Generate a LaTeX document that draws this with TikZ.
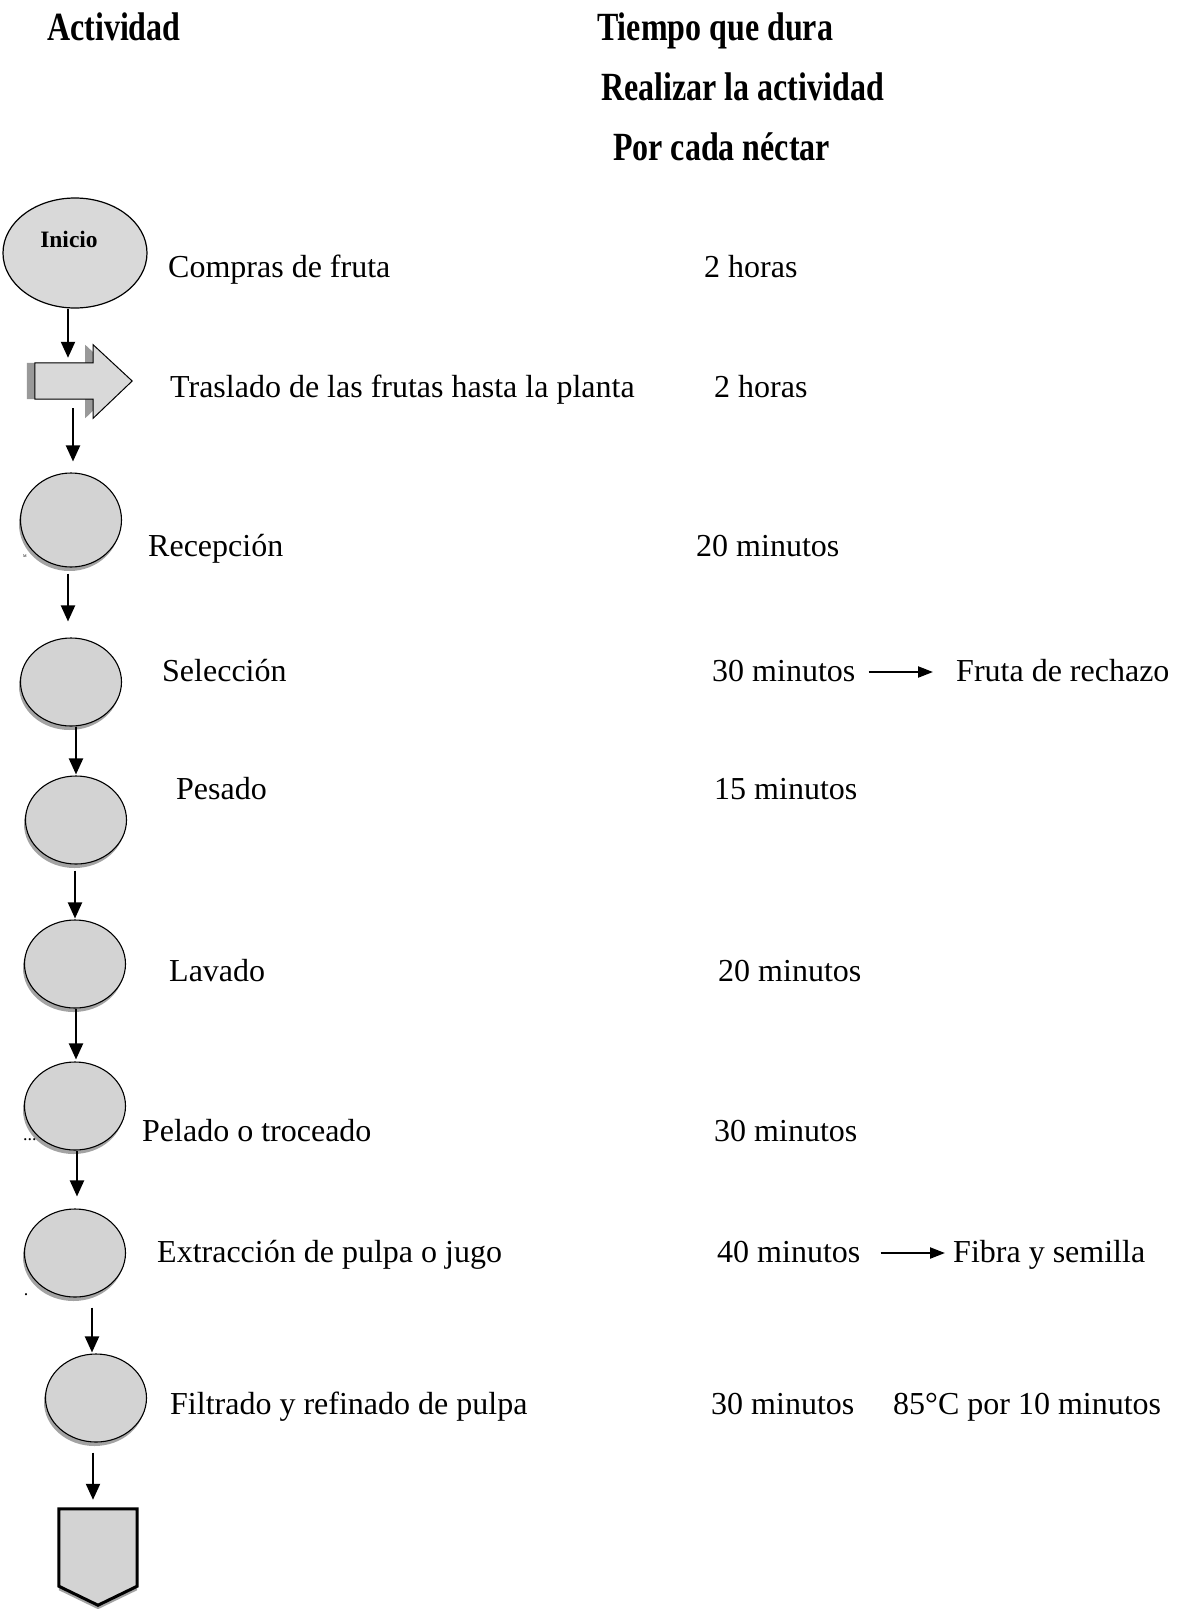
\documentclass[tikz,border=0pt]{standalone}
\usepackage{fontspec}
\setmainfont{Liberation Serif}
\usetikzlibrary{arrows.meta,positioning,shapes.geometric,shadows}

\definecolor{gris}{HTML}{D3D3D3}
\definecolor{grisini}{HTML}{D9D9D9}
\definecolor{sombra}{HTML}{A3A3A3}
\definecolor{sombraosc}{HTML}{999999}

\newcommand{\alto}[1]{\scalebox{1}[1.25]{#1}}

\begin{document}
\begin{tikzpicture}[x=1pt,y=-1pt,
  paso/.style={ellipse,draw,line width=1.1pt,fill=gris,inner sep=0pt,
    minimum width=101pt,minimum height=88pt,
    drop shadow={shadow xshift=-1.5pt,shadow yshift=-4pt,fill=sombra,opacity=1}},
  inicio/.style={ellipse,draw,line width=1.2pt,fill=grisini,inner sep=0pt,
    minimum width=144pt,minimum height=110pt},
  flujo/.style={-{Triangle[length=16pt,width=14pt]},line width=2pt},
  salida/.style={-{Triangle[length=15pt,width=11pt]},line width=2.2pt},
  txt/.style={anchor=west,inner sep=0pt,text height=22pt,text depth=4pt,
    font=\fontsize{32}{38}\selectfont},
  cab/.style={anchor=west,inner sep=0pt,text height=27pt,text depth=0pt,
    font=\fontsize{32}{38}\selectfont\bfseries},
  marca/.style={inner sep=0pt}]
  \useasboundingbox (0,0) rectangle (1176,1609);

  % encabezados
  \node[cab] (h1) at (47,27) {\alto{Actividad}};
  \node[cab] (h2) at (597,27) {\alto{Tiempo que dura}};
  \node[cab] (h3) at (601,87) {\alto{Realizar la actividad}};
  \node[cab] (h4) at (613,147) {\alto{Por cada néctar}};

  % simbolos del diagrama
  \node[inicio,label={[font=\fontsize{23.5}{28}\selectfont\bfseries,xshift=-6pt,yshift=14pt]center:Inicio}] (ini) at (75,253) {};
  \node[inner sep=0pt,minimum width=58pt,minimum height=36pt] (tras) at (64,381) {};
  \path[draw,line width=1pt,fill=grisini,
    drop shadow={shadow xshift=-8pt,shadow yshift=0pt,fill=sombraosc,opacity=1}]
    (tras.south west) -- (tras.north west) -- (tras.north east)
    -- ([yshift=18pt]tras.north east) -- ([xshift=39pt]tras.east)
    -- ([yshift=-19pt]tras.south east) -- (tras.south east) -- cycle;
  \node[paso,minimum height=94pt] (rec) at (71,520) {};
  \node[paso] (sel) at (71,682) {};
  \node[paso] (pes) at (76,820) {};
  \node[paso] (lav) at (75,964) {};
  \node[paso] (pel) at (75,1106) {};
  \node[paso] (ext) at (75,1253) {};
  \node[paso] (fil) at (96,1398) {};
  \node[inner sep=0pt,minimum width=78pt,minimum height=77pt] (fin) at (98,1547.5) {};
  \path[draw,line width=3pt,fill=gris,
    drop shadow={shadow xshift=0pt,shadow yshift=-4pt,fill=sombra,opacity=1}]
    (fin.north west) -- (fin.north east) -- (fin.south east)
    -- ([yshift=-19pt]fin.south) -- (fin.south west) -- cycle;

  \node[marca,font=\fontsize{4}{4}\selectfont] (m1) at (25,556) {M};
  \node[marca,font=\fontsize{18}{20}\selectfont] (m2) at (30,1140) {...};
  \node[marca,font=\fontsize{18}{20}\selectfont] (m3) at (26,1295) {.};

  % flechas
  \draw[flujo,shorten >=5pt] ([xshift=-7pt]ini.south) -- ([xshift=-7pt]ini.south |- tras.north);
  \draw[flujo,shorten <=9pt,shorten >=11pt] ([xshift=9pt]tras.south) -- ([xshift=9pt]tras.south |- rec.north);
  \draw[flujo,shorten <=6pt,shorten >=16pt] ([xshift=-3pt]rec.south) -- ([xshift=-3pt]rec.south |- sel.north);
  \draw[flujo,shorten >=1pt] ([xshift=5pt]sel.south) -- ([xshift=5pt]sel.south |- pes.north);
  \draw[flujo,shorten <=6pt,shorten >=1pt] ([xshift=-1pt]pes.south) -- ([xshift=-1pt]pes.south |- lav.north);
  \draw[flujo,shorten >=2pt] ([xshift=1pt]lav.south) -- ([xshift=1pt]lav.south |- pel.north);
  \draw[flujo,shorten >=12pt] ([xshift=2pt]pel.south) -- ([xshift=2pt]pel.south |- ext.north);
  \draw[flujo,shorten <=10pt,shorten >=1pt] ([xshift=-4pt]fil.north |- ext.south) -- ([xshift=-4pt]fil.north);
  \draw[flujo,shorten <=10pt,shorten >=9pt] ([xshift=-3pt]fil.south) -- ([xshift=-3pt]fil.south |- fin.north);

  % actividades y tiempos
  \node[txt] (a1) at (168,268) {Compras de fruta};
  \node[txt] (t1) at (704,268) {2 horas};
  \node[txt] (a2) at (170,388) {Traslado de las frutas hasta la planta};
  \node[txt] (t2) at (714,388) {2 horas};
  \node[txt] (a3) at (148,547) {Recepción};
  \node[txt] (t3) at (696,547) {20 minutos};
  \node[txt] (a4) at (162,672) {Selección};
  \node[txt] (t4) at (712,672) {30 minutos};
  \node[txt] (r4) at (956,672) {Fruta de rechazo};
  \node[txt] (a5) at (176,790) {Pesado};
  \node[txt] (t5) at (714,790) {15 minutos};
  \node[txt] (a6) at (169,972) {Lavado};
  \node[txt] (t6) at (718,972) {20 minutos};
  \node[txt] (a7) at (142,1132) {Pelado o troceado};
  \node[txt] (t7) at (714,1132) {30 minutos};
  \node[txt] (a8) at (157,1253) {Extracción de pulpa o jugo};
  \node[txt] (t8) at (717,1253) {40 minutos};
  \node[txt] (r8) at (953,1253) {Fibra y semilla};
  \node[txt] (a9) at (170,1405) {Filtrado y refinado de pulpa};
  \node[txt] (t9) at (711,1405) {30 minutos};
  \node[txt] (r9) at (893,1405) {85°C por 10 minutos};

  \draw[salida,shorten <=13pt,shorten >=23pt] (t4.east) -- (r4.west);
  \draw[salida,shorten <=20pt,shorten >=8pt] (t8.east) -- (r8.west);
\end{tikzpicture}
\end{document}
